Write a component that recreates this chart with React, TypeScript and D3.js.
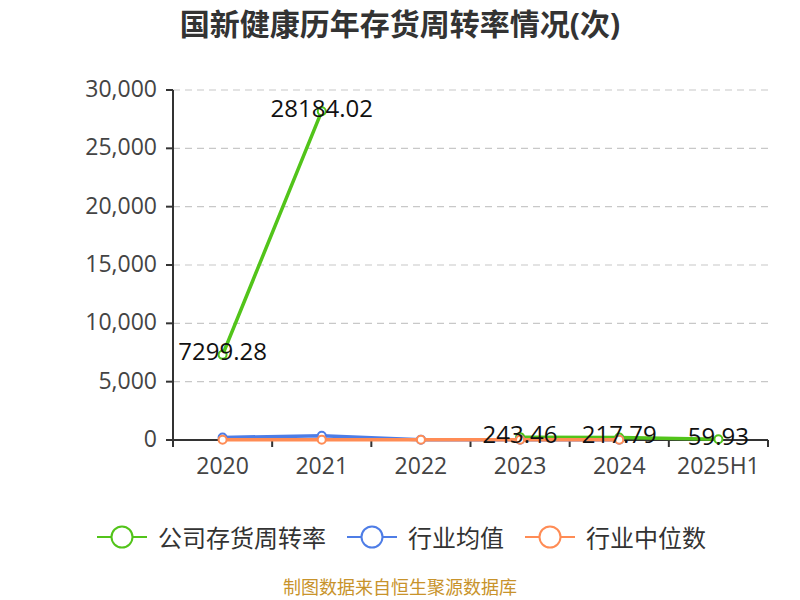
import React from "react";
import * as d3 from "d3";

const categories = ["2020", "2021", "2022", "2023", "2024", "2025H1"];
const companyValues: (number | null)[] = [7299.28, 28184.02, null, 243.46, 217.79, 59.93];
const industryAvg: (number | null)[] = [220, 370, 30, 30, 30, null];
const industryMedian: (number | null)[] = [20, 30, 20, 25, 20, null];
const yTicks = [0, 5000, 10000, 15000, 20000, 25000, 30000];
const seriesNames = ["公司存货周转率", "行业均值", "行业中位数"];
const titleText = "国新健康历年存货周转率情况(次)";
const footerText = "制图数据来自恒生聚源数据库";

const COLORS = ["#52c41a", "#4e7de6", "#ff8c55"];
const FONT = '"Open Sans", "Noto Sans CJK SC", sans-serif';

export default function App() {
  const left = 173, right = 768, top = 90, bottom = 440;
  const x = d3.scaleBand<string>().domain(categories).range([left, right]);
  const y = d3.scaleLinear().domain([0, 30000]).range([bottom, top]);
  const cx = (c: string) => (x(c) as number) + x.bandwidth() / 2;

  const series = [companyValues, industryAvg, industryMedian];
  const lineGen = d3
    .line<number | null>()
    .defined((d) => d !== null)
    .x((_, i) => cx(categories[i]))
    .y((d) => y(d as number));

  const fmt = d3.format(",");

  const legendY = 537;
  const legendStarts = [97, 347, 525];

  return (
    <svg
      width={800}
      height={600}
      style={{ position: "absolute", left: 0, top: 0, background: "#fff" }}
      fontFamily={FONT}
    >
      <text x={400} y={23} textAnchor="middle" dominantBaseline="central" fontSize={30} fontWeight="bold" fill="#333">
        {titleText}
      </text>

      {yTicks.filter((t) => t > 0).map((t) => (
        <line key={"g" + t} x1={left} x2={right} y1={y(t)} y2={y(t)} stroke="#c8c8c8" strokeWidth={1.2} strokeDasharray="7,5" />
      ))}

      <line x1={left} x2={left} y1={top} y2={bottom} stroke="#333" strokeWidth={2} />
      {yTicks.map((t) => (
        <g key={"yt" + t}>
          <line x1={left - 7} x2={left} y1={y(t)} y2={y(t)} stroke="#333" strokeWidth={2} />
          <text x={157} y={y(t) + 7} textAnchor="end" fontSize={23} fill="#444">
            {fmt(t)}
          </text>
        </g>
      ))}

      <line x1={left} x2={right} y1={bottom} y2={bottom} stroke="#333" strokeWidth={2} />
      {categories.map((c) => (
        <line key={"xt" + c} x1={x(c) as number} x2={x(c) as number} y1={bottom} y2={bottom + 7} stroke="#333" strokeWidth={2} />
      ))}
      <line x1={right} x2={right} y1={bottom} y2={bottom + 7} stroke="#333" strokeWidth={2} />
      {categories.map((c) => (
        <text key={"xl" + c} x={cx(c)} y={474} textAnchor="middle" fontSize={23} fill="#444">
          {c}
        </text>
      ))}

      {series.map((s, si) => (
        <g key={"s" + si}>
          <path d={lineGen(s) || ""} fill="none" stroke={COLORS[si]} strokeWidth={3.5} strokeLinejoin="round" />
          {s.map((v, i) =>
            v === null ? null : (
              <circle key={i} cx={cx(categories[i])} cy={y(v)} r={4} fill="#fff" stroke={COLORS[si]} strokeWidth={2} />
            )
          )}
        </g>
      ))}

      {companyValues.map((v, i) =>
        v === null ? null : (
          <text key={"lb" + i} x={cx(categories[i])} y={y(v) - 4} textAnchor="middle" dominantBaseline="central" fontSize={24} fill="#111">
            {v.toFixed(2)}
          </text>
        )
      )}

      {seriesNames.map((n, i) => {
        const sx = legendStarts[i];
        return (
          <g key={"lg" + i}>
            <line x1={sx} x2={sx + 50} y1={legendY} y2={legendY} stroke={COLORS[i]} strokeWidth={2} />
            <circle cx={sx + 25} cy={legendY} r={10.5} fill="#fff" stroke={COLORS[i]} strokeWidth={2} />
            <text x={sx + 61} y={legendY} dominantBaseline="central" fontSize={24} fill="#333">
              {n}
            </text>
          </g>
        );
      })}

      <text x={400} y={587} textAnchor="middle" dominantBaseline="central" fontSize={18} fill="#c8932b">
        {footerText}
      </text>
    </svg>
  );
}
